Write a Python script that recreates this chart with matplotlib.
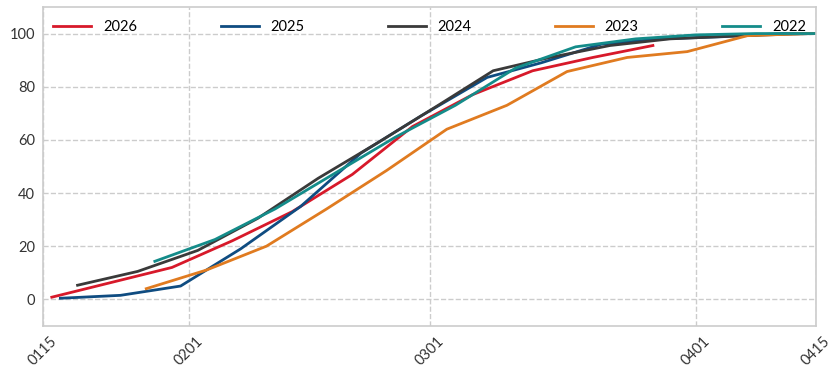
import matplotlib.pyplot as plt

# x axis: days after Jan 15
tick_days = [0, 17, 45, 76, 90]
tick_labels = ['0115', '0201', '0301', '0401', '0415']

days_2026 = [1, 8, 15, 22, 29, 36, 43, 50, 57, 64, 71]
vals_2026 = [0.8, 6.4, 12, 22, 33, 47, 65, 77, 86, 91, 95.5]

days_2025 = [2, 9, 16, 23, 30, 37, 44, 51.7, 58, 65, 72, 79, 86, 90]
vals_2025 = [0.4, 1.5, 5, 19, 35, 55, 69, 83.5, 89, 96, 98, 98.8, 100, 100]

days_2024 = [4, 11, 18, 25, 32, 39, 46, 52.4, 59, 66, 73, 80, 87, 90]
vals_2024 = [5.3, 10.5, 18.4, 30.5, 45.5, 59, 73, 86, 91, 95.5, 98, 99, 99.8, 100]

days_2023 = [12, 19, 26, 33, 40, 47, 54, 61, 68, 75, 82, 89, 90]
vals_2023 = [4, 11, 20, 34, 48.5, 64, 73, 85.7, 91, 93.2, 99.2, 100, 100]

days_2022 = [13, 20, 27, 34, 41, 48, 55, 62, 69, 76, 83, 90]
vals_2022 = [14.3, 22.5, 34, 47.5, 61, 73, 87, 95, 98, 99.5, 100, 100]

years = ['2026', '2025', '2024', '2023', '2022']
colors = ['#d7192a', '#0f4c81', '#3a3a3a', '#e07b20', '#148c8a']
series = [(days_2026, vals_2026), (days_2025, vals_2025), (days_2024, vals_2024),
          (days_2023, vals_2023), (days_2022, vals_2022)]

plt.rcParams['font.family'] = ['Lato', 'DejaVu Sans']

fig = plt.figure(figsize=(8.31, 3.67), dpi=100)
ax = fig.add_axes([0.052, 0.112, 0.93, 0.869])

for (d, v), yr, c in zip(series, years, colors):
    ax.plot(d, v, color=c, lw=2, label=yr)

ax.set_xlim(0, 90)
ax.set_ylim(-10, 110)
ax.set_xticks(tick_days)
ax.set_xticklabels(tick_labels, rotation=45, fontsize=10.5, color='#333333')
ax.set_yticks([0, 20, 40, 60, 80, 100])
ax.tick_params(axis='y', labelsize=10.5, labelcolor='#333333')
ax.tick_params(length=0, pad=6)

ax.grid(True, ls='--', color='#cccccc', lw=1)
for s in ax.spines.values():
    s.set_color('#cccccc')
    s.set_linewidth(1.2)

ax.legend(loc='upper left', bbox_to_anchor=(0.0, 0.99, 1.0, 0.0), mode='expand',
          ncol=5, frameon=False, fontsize=10.5, handlelength=2.6, borderaxespad=0.3)

fig.savefig('out.png', dpi=100)
